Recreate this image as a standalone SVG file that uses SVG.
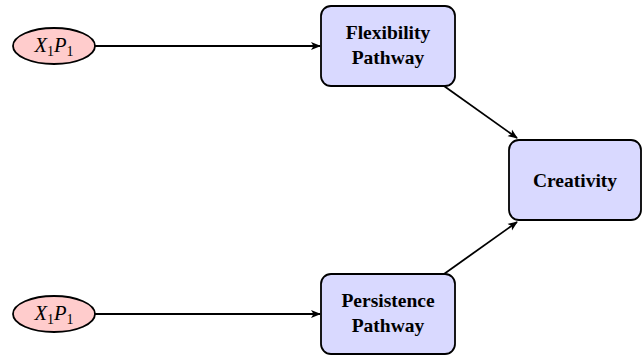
<svg xmlns="http://www.w3.org/2000/svg" width="643" height="357" viewBox="0 0 643 357">
<style>
.box{fill:#d9d9ff;stroke:#000;stroke-width:1.8}
.ell{fill:#ffcccc;stroke:#000;stroke-width:1.8}
.lbl{font-family:"Liberation Serif","Times New Roman",serif;font-weight:bold;font-size:19.5px;text-anchor:middle;fill:#000}
.var{font-family:"Liberation Serif","Times New Roman",serif;font-style:italic;font-size:20.5px;fill:#000}
.sub{font-style:normal;font-size:14px}
.edge{fill:none;stroke:#000;stroke-width:1.8}
</style>
<defs>
<marker id="arr" viewBox="0 0 10 10" refX="9" refY="5" markerWidth="10" markerHeight="10" markerUnits="userSpaceOnUse" orient="auto">
<path d="M0,1 L10,5 L0,9 L2.5,5 Z" fill="#000"/>
</marker>
</defs>
<g id="connectors">
<line class="edge" x1="95" y1="46" x2="320" y2="46" marker-end="url(#arr)"/>
<line class="edge" x1="95" y1="314" x2="320" y2="314" marker-end="url(#arr)"/>
<line class="edge" x1="444" y1="86" x2="517" y2="138" marker-end="url(#arr)"/>
<line class="edge" x1="444" y1="274" x2="517" y2="222" marker-end="url(#arr)"/>
</g>
<g id="x1p1_top">
<ellipse class="ell" cx="54" cy="46" rx="41" ry="18"/>
<text class="var" x="54" y="52" text-anchor="middle">X<tspan class="sub" dy="4">1</tspan><tspan dy="-4">P</tspan><tspan class="sub" dy="4">1</tspan></text>
</g>
<g id="x1p1_bottom">
<ellipse class="ell" cx="54" cy="314" rx="41" ry="18"/>
<text class="var" x="54" y="320" text-anchor="middle">X<tspan class="sub" dy="4">1</tspan><tspan dy="-4">P</tspan><tspan class="sub" dy="4">1</tspan></text>
</g>
<g id="flexibility">
<rect class="box" x="321" y="6" width="134" height="80" rx="10"/>
<text class="lbl" x="388" y="39">Flexibility</text>
<text class="lbl" x="388" y="64">Pathway</text>
</g>
<g id="persistence">
<rect class="box" x="321" y="274" width="134" height="80" rx="10"/>
<text class="lbl" x="388" y="307">Persistence</text>
<text class="lbl" x="388" y="332">Pathway</text>
</g>
<g id="creativity">
<rect class="box" x="509" y="140" width="132" height="80" rx="10"/>
<text class="lbl" x="575" y="187">Creativity</text>
</g>
</svg>
